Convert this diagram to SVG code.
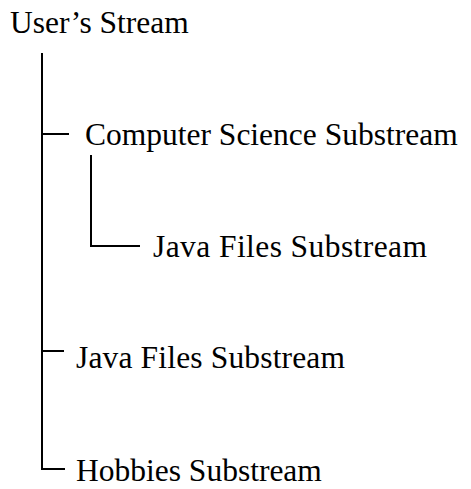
<svg xmlns="http://www.w3.org/2000/svg" width="471" height="489" viewBox="0 0 471 489">
  <style>
    .label { font-family: "Liberation Serif", "Times New Roman", serif; font-size: 31.5px; fill: #000; }
    .conn { stroke: #000; stroke-width: 2; fill: none; }
  </style>
  <rect width="471" height="489" fill="#fff"/>
  <g id="connectors">
    <!-- trunk from the root stream down to the last child -->
    <path class="conn" d="M42,53 V469 H65"/>
    <path class="conn" d="M42,134 H69"/>
    <path class="conn" d="M42,351 H64"/>
    <!-- nested branch under Computer Science -->
    <path class="conn" d="M91,155 V246 H140"/>
  </g>
  <g id="root">
    <text class="label" x="10" y="33">User’s Stream</text>
  </g>
  <g id="cs">
    <text class="label" x="85" y="145">Computer Science Substream</text>
  </g>
  <g id="cs-java">
    <text class="label" x="153" y="257" textLength="274">Java Files Substream</text>
  </g>
  <g id="java">
    <text class="label" x="76" y="368" textLength="269">Java Files Substream</text>
  </g>
  <g id="hobbies">
    <text class="label" x="76" y="481">Hobbies Substream</text>
  </g>
</svg>
